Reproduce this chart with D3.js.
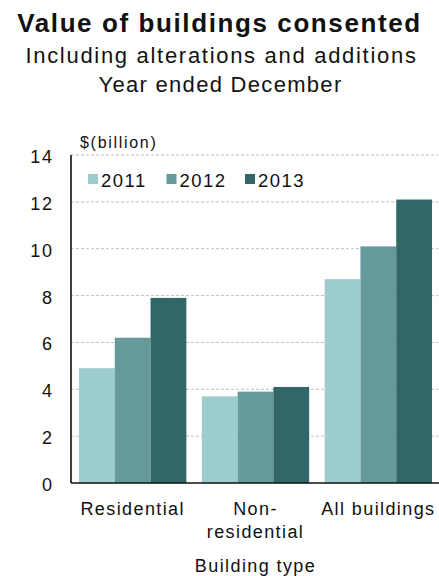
<!DOCTYPE html>
<html>
<head>
<meta charset="utf-8">
<script src="https://cdn.jsdelivr.net/npm/d3@7"></script>
<style>
  html, body { margin: 0; padding: 0; background: #fff; }
  svg { display: block; font-family: "Liberation Sans", Arial, sans-serif; }
</style>
</head>
<body>
<svg id="chart" width="439" height="576"></svg>
<script>
// Building types on the x axis (multi-line labels split on "\n")
const categories = ["Residential", "Non-\nresidential", "All buildings"];
// Years shown as grouped bars
const years = ["2011", "2012", "2013"];
// Value of consents, $ billion, per year, in category order
const values2011 = [4.9, 3.7, 8.7];
const values2012 = [6.2, 3.9, 10.1];
const values2013 = [7.9, 4.1, 12.1];
const yTicks = [0, 2, 4, 6, 8, 10, 12, 14];
const colors = ["#9ccccc", "#669a9a", "#336666"];

const seriesValues = [values2011, values2012, values2013];

const svg = d3.select("#chart");
const width = 439;

// Plot area
const plotLeft = 71, plotRight = 440, plotTop = 155, plotBottom = 483;

const x0 = d3.scaleBand()
  .domain(categories)
  .range([plotLeft, plotRight])
  .paddingInner(0.126)
  .paddingOuter(0.065);

const x1 = d3.scaleBand()
  .domain(years)
  .range([0, x0.bandwidth()])
  .padding(0);

const y = d3.scaleLinear().domain([0, 14]).range([plotBottom, plotTop]);

const color = d3.scaleOrdinal().domain(years).range(colors);

// Titles
svg.append("text")
  .attr("x", width / 2).attr("y", 31.5)
  .attr("text-anchor", "middle")
  .attr("font-weight", "bold")
  .attr("font-size", 26)
  .attr("letter-spacing", 1.6)
  .attr("fill", "#111")
  .text("Value of buildings consented");

svg.append("text")
  .attr("x", width / 2 + 2).attr("y", 63)
  .attr("text-anchor", "middle")
  .attr("font-size", 22)
  .attr("letter-spacing", 1.7)
  .attr("fill", "#111")
  .text("Including alterations and additions");

svg.append("text")
  .attr("x", width / 2 + 1).attr("y", 92)
  .attr("text-anchor", "middle")
  .attr("font-size", 22)
  .attr("letter-spacing", 1.3)
  .attr("fill", "#111")
  .text("Year ended December");

// Horizontal gridlines
svg.append("g")
  .selectAll("line")
  .data(yTicks.filter(d => d > 0))
  .join("line")
  .attr("x1", plotLeft).attr("x2", 438)
  .attr("y1", d => y(d)).attr("y2", d => y(d))
  .attr("stroke", "#c0c0c0")
  .attr("stroke-width", 1)
  .attr("stroke-dasharray", "3,2");

// Bars
const groups = svg.append("g")
  .selectAll("g")
  .data(categories)
  .join("g")
  .attr("transform", d => `translate(${x0(d)},0)`);

groups.selectAll("rect")
  .data((c, ci) => years.map((yr, si) => ({ year: yr, value: seriesValues[si][ci] })))
  .join("rect")
  .attr("x", d => x1(d.year))
  .attr("width", x1.bandwidth())
  .attr("y", d => y(d.value))
  .attr("height", d => y(0) - y(d.value))
  .attr("fill", d => color(d.year));

// Y axis with tick labels, no tick marks
const yAxis = d3.axisLeft(y).tickValues(yTicks).tickSize(0).tickPadding(0)
  .tickFormat(d3.format("d"));
const yAxisG = svg.append("g")
  .attr("transform", `translate(${plotLeft},0)`)
  .call(yAxis);
yAxisG.select(".domain").remove();
yAxisG.selectAll("text")
  .attr("x", -17.5)
  .attr("dy", "0.42em")
  .attr("font-size", 18)
  .attr("letter-spacing", 1.6)
  .attr("font-family", "'Liberation Sans', Arial, sans-serif")
  .attr("fill", "#111");

// Axis lines
svg.append("line")
  .attr("x1", plotLeft).attr("x2", plotLeft)
  .attr("y1", plotTop).attr("y2", plotBottom)
  .attr("stroke", "#111").attr("stroke-width", 1.6);
svg.append("line")
  .attr("x1", plotLeft).attr("x2", 439)
  .attr("y1", plotBottom).attr("y2", plotBottom)
  .attr("stroke", "#111").attr("stroke-width", 1.6);

// Unit label
svg.append("text")
  .attr("x", 80).attr("y", 148)
  .attr("font-size", 16)
  .attr("letter-spacing", 1.7)
  .attr("fill", "#111")
  .text("$(billion)");

// Legend
const legend = svg.append("g")
  .selectAll("g")
  .data(years)
  .join("g")
  .attr("transform", (d, i) => `translate(${88 + i * 78.5},174)`);
legend.append("rect")
  .attr("width", 10).attr("height", 10)
  .attr("fill", d => color(d));
legend.append("text")
  .attr("x", 13).attr("y", 12.5)
  .attr("font-size", 18.5)
  .attr("letter-spacing", 1.5)
  .attr("fill", "#111")
  .text(d => d);

// Category labels
const xAxis = d3.axisBottom(x0).tickSize(0).tickFormat("");
const xAxisG = svg.append("g")
  .attr("transform", `translate(0,${plotBottom})`)
  .call(xAxis);
xAxisG.select(".domain").remove();
xAxisG.selectAll(".tick").each(function(d) {
  const lines = d.split("\n");
  const t = d3.select(this).append("text")
    .attr("text-anchor", "middle")
    .attr("font-size", 18)
    .attr("letter-spacing", 1.4)
    .attr("font-family", "'Liberation Sans', Arial, sans-serif")
    .attr("fill", "#111");
  lines.forEach((ln, i) => {
    t.append("tspan")
      .attr("x", 0)
      .attr("y", 32 + i * 23)
      .text(ln);
  });
});

// X axis title
svg.append("text")
  .attr("x", (plotLeft + 438) / 2 + 1).attr("y", 572)
  .attr("text-anchor", "middle")
  .attr("font-size", 18)
  .attr("letter-spacing", 1.4)
  .attr("fill", "#111")
  .text("Building type");
</script>
</body>
</html>
